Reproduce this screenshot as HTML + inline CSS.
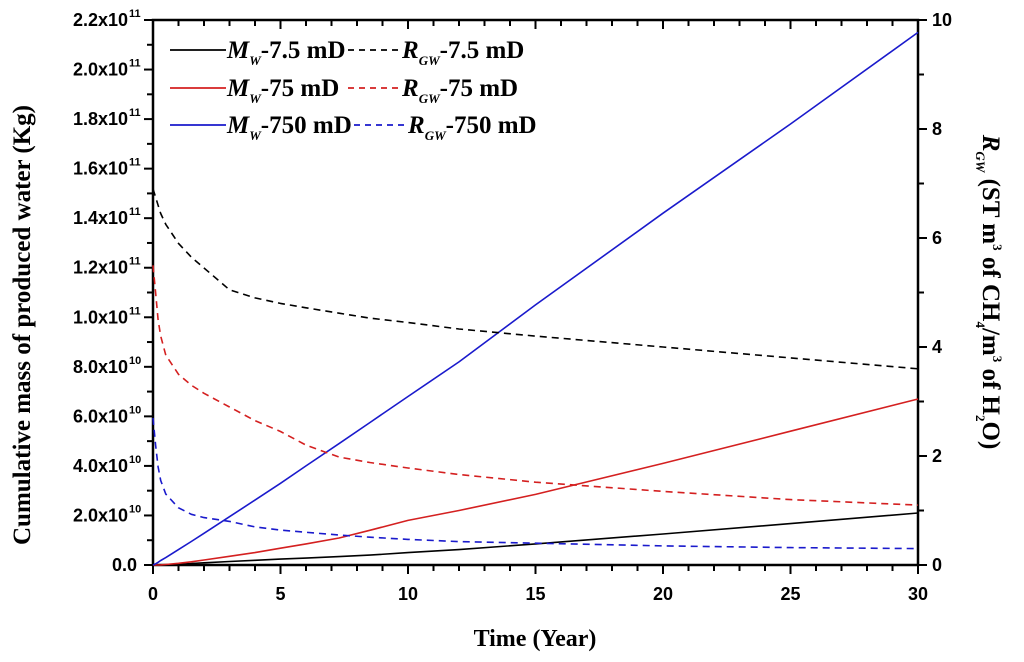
<!DOCTYPE html>
<html><head><meta charset="utf-8"><style>
body{margin:0;background:#fff}
svg{display:block}
text{font-family:"Liberation Sans",sans-serif}
.ser{font-family:"Liberation Serif",serif;font-weight:bold}
</style></head><body>
<svg id="chart" width="1024" height="662" xmlns="http://www.w3.org/2000/svg">
<g id="plot"></g>
</svg>
<script>
const years=[0,0.1,0.2,0.3,0.5,1,1.5,2,3,4,5,6,7.3,8.5,10,12,15,20,25,30];
const mwBlack=[0,0,0.0001,0.0003,0.001,0.003,0.006,0.009,0.014,0.019,0.024,0.028,0.034,0.04,0.05,0.062,0.085,0.125,0.167,0.21];
const mwRed=[0,0,0.0002,0.0005,0.002,0.007,0.013,0.02,0.035,0.05,0.068,0.085,0.109,0.14,0.18,0.22,0.285,0.41,0.54,0.67];
const mwBlue=[0,0.005,0.011,0.018,0.03,0.062,0.095,0.128,0.195,0.262,0.33,0.4,0.49,0.575,0.68,0.82,1.05,1.42,1.78,2.15];
const rgBlack=[6.9,6.75,6.6,6.45,6.25,5.9,5.65,5.45,5.05,4.9,4.8,4.72,4.62,4.53,4.45,4.33,4.2,4.0,3.8,3.6];
const rgRed=[5.5,5.0,4.5,4.2,3.85,3.5,3.3,3.15,2.9,2.65,2.45,2.2,1.98,1.88,1.78,1.66,1.52,1.35,1.2,1.1];
const rgBlue=[2.7,2.2,1.8,1.55,1.3,1.05,0.93,0.87,0.8,0.7,0.64,0.6,0.55,0.51,0.47,0.43,0.4,0.35,0.32,0.3];
const leftTicks=["0.0","2.0x10","4.0x10","6.0x10","8.0x10","1.0x10","1.2x10","1.4x10","1.6x10","1.8x10","2.0x10","2.2x10"];
const leftExp=["","10","10","10","10","11","11","11","11","11","11","11"];
const rightTicks=[0,2,4,6,8,10];
const xTicks=[0,5,10,15,20,25,30];

const L=153,R=918,T=20,B=565;
const sx=v=>L+v/30*(R-L);
const syL=v=>B-v/2.2*(B-T);
const syR=v=>B-v/10*(B-T);
const NS="http://www.w3.org/2000/svg";
const svg=document.getElementById('chart');
function mk(tag,attrs,parent){const e=document.createElementNS(NS,tag);for(const k in attrs)e.setAttribute(k,attrs[k]);(parent||svg).appendChild(e);return e;}

let ax=mk('path',{d:`M${L},${T}H${R}V${B}H${L}Z`,fill:'none',stroke:'#000','stroke-width':2.5});



for(let i=0;i<=30;i++){
  const x=sx(i),major=i%5===0,len=major?9:6;
  let t=mk('line',{x1:x,x2:x,y1:B,y2:B+len,stroke:'#000','stroke-width':2});
  
  
  let t2=mk('line',{x1:x,x2:x,y1:T,y2:T+len,stroke:'#000','stroke-width':2});
  
  
}
xTicks.forEach(v=>{
  let tx=mk('text',{x:sx(v),y:600,'text-anchor':'middle','font-size':18,'font-weight':'bold'});
  tx.textContent=v;
  
  
});
for(let i=0;i<=22;i++){
  const y=syL(i*0.1),major=i%2===0;
  let t=mk('line',{x1:L-(major?9:6),x2:L,y1:y,y2:y,stroke:'#000','stroke-width':2});
  
  
}
leftTicks.forEach((s,i)=>{
  const y=syL(i*0.2)+6;
  let tx=mk('text',{x:leftExp[i]?128:137,y:y,'text-anchor':'end','font-size':18,'font-weight':'bold'});
  tx.textContent=s;
  
  
  if(leftExp[i]){
    let e=mk('text',{x:129,y:y-9,'font-size':11,'font-weight':'bold'});
    e.textContent=leftExp[i];
    
    
  }
});
for(let i=0;i<=10;i++){
  const y=syR(i),major=i%2===0;
  let t=mk('line',{x1:R,x2:R+(major?9:6),y1:y,y2:y,stroke:'#000','stroke-width':2});
  
  
}
rightTicks.forEach(v=>{
  let tx=mk('text',{x:932,y:syR(v)+6,'font-size':18,'font-weight':'bold'});
  tx.textContent=v;
  
  
});

function line(ys,sy,color,dash,name){
  const d=ys.map((v,i)=>(i?'L':'M')+sx(years[i]).toFixed(1)+','+sy(v).toFixed(1)).join('');
  let p=mk('path',{d:d,fill:'none',stroke:color,'stroke-width':1.6,'stroke-dasharray':dash?'7,5':'none','stroke-linejoin':'round'});
  
  
}
line(mwBlack,syL,'#000',false,'mw-7.5-line');
line(mwRed,syL,'#d42020',false,'mw-75-line');
line(mwBlue,syL,'#1a1acc',false,'mw-750-line');
line(rgBlack,syR,'#000',true,'rgw-7.5-line');
line(rgRed,syR,'#d42020',true,'rgw-75-line');
line(rgBlue,syR,'#1a1acc',true,'rgw-750-line');
</script>
<svg style="position:absolute;left:0;top:0" width="1024" height="662" xmlns="http://www.w3.org/2000/svg">
<g class="ser" font-size="25">
 <g><line x1="170" y1="50" x2="226" y2="50" stroke="#000" stroke-width="1.8"/><text x="227" y="58" class="ser"><tspan font-style="italic">M</tspan><tspan font-style="italic" font-size="13" dy="7">W</tspan><tspan dy="-7">-7.5 mD</tspan></text></g>
 <g><line x1="348" y1="50" x2="400" y2="50" stroke="#000" stroke-width="1.8" stroke-dasharray="6,5"/><text x="402" y="58" class="ser"><tspan font-style="italic">R</tspan><tspan font-style="italic" font-size="13" dy="7">GW</tspan><tspan dy="-7">-7.5 mD</tspan></text></g>
 <g><line x1="170" y1="88" x2="226" y2="88" stroke="#d42020" stroke-width="1.8"/><text x="227" y="96" class="ser"><tspan font-style="italic">M</tspan><tspan font-style="italic" font-size="13" dy="7">W</tspan><tspan dy="-7">-75 mD</tspan></text></g>
 <g><line x1="348" y1="88" x2="400" y2="88" stroke="#d42020" stroke-width="1.8" stroke-dasharray="6,5"/><text x="402" y="96" class="ser"><tspan font-style="italic">R</tspan><tspan font-style="italic" font-size="13" dy="7">GW</tspan><tspan dy="-7">-75 mD</tspan></text></g>
 <g><line x1="170" y1="125" x2="226" y2="125" stroke="#1a1acc" stroke-width="1.8"/><text x="227" y="133" class="ser"><tspan font-style="italic">M</tspan><tspan font-style="italic" font-size="13" dy="7">W</tspan><tspan dy="-7">-750 mD</tspan></text></g>
 <g><line x1="354" y1="125" x2="406" y2="125" stroke="#1a1acc" stroke-width="1.8" stroke-dasharray="6,5"/><text x="408" y="133" class="ser"><tspan font-style="italic">R</tspan><tspan font-style="italic" font-size="13" dy="7">GW</tspan><tspan dy="-7">-750 mD</tspan></text></g>
</g>
<text class="ser" x="535" y="646" text-anchor="middle" font-size="24">Time (Year)</text>
<text class="ser" transform="translate(30,325) rotate(-90)" text-anchor="middle" font-size="25">Cumulative mass of produced water (Kg)</text>
<text class="ser" transform="translate(983,292) rotate(90)" text-anchor="middle" font-size="25"><tspan font-style="italic">R</tspan><tspan font-style="italic" font-size="13" dy="7">GW</tspan><tspan dy="-7"> (ST m</tspan><tspan font-size="13" dy="-10">3</tspan><tspan dy="10"> of CH</tspan><tspan font-size="13" dy="7">4</tspan><tspan dy="-7">/m</tspan><tspan font-size="13" dy="-10">3</tspan><tspan dy="10"> of H</tspan><tspan font-size="13" dy="7">2</tspan><tspan dy="-7">O)</tspan></text>
</svg>
</body></html>
